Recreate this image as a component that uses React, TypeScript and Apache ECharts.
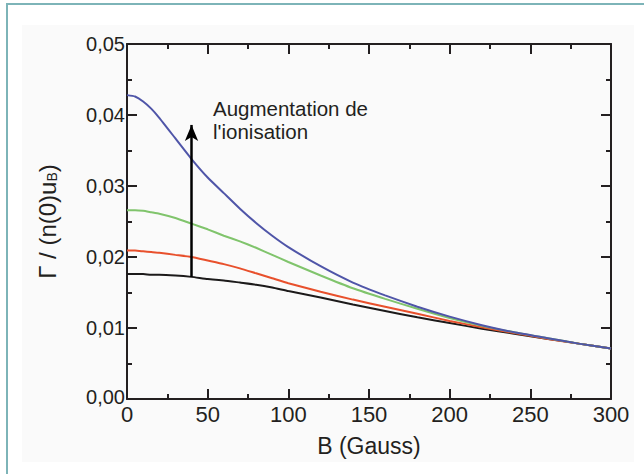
import React, { useEffect, useRef } from "react";
import * as echarts from "echarts";

const bGauss = [0, 5, 10, 15, 20, 30, 40, 50, 60, 70, 80, 90, 100, 120, 140, 160, 180, 200, 220, 240, 260, 280, 300];
const blueVals = [0.0428, 0.0426, 0.0419, 0.0409, 0.0396, 0.0367, 0.0338, 0.0312, 0.029, 0.0268, 0.0248, 0.023, 0.0214, 0.0187, 0.0164, 0.0146, 0.013, 0.0116, 0.0104, 0.0094, 0.0086, 0.0078, 0.0071];
const greenVals = [0.0266, 0.0266, 0.0265, 0.0263, 0.0261, 0.0255, 0.0247, 0.0239, 0.023, 0.0222, 0.0213, 0.0203, 0.0193, 0.0174, 0.0156, 0.0141, 0.0127, 0.0114, 0.0103, 0.0094, 0.0086, 0.0078, 0.0071];
const redVals = [0.0209, 0.0209, 0.0208, 0.0207, 0.0206, 0.0203, 0.02, 0.0195, 0.019, 0.0184, 0.0177, 0.017, 0.0163, 0.0151, 0.014, 0.013, 0.012, 0.011, 0.0101, 0.0093, 0.0085, 0.0078, 0.0071];
const blackVals = [0.0176, 0.0176, 0.0176, 0.0175, 0.0175, 0.0174, 0.0172, 0.0169, 0.0167, 0.0164, 0.0161, 0.0157, 0.0152, 0.0143, 0.0133, 0.0124, 0.0115, 0.0107, 0.0099, 0.0092, 0.0085, 0.0078, 0.0071];

const arrowX = 40;
const arrowFrom = 0.0172;
const arrowTo = 0.0386;
const annotationLines = ["Augmentation de", "l'ionisation"];

const FONT = "'Liberation Sans', Arial, Helvetica, sans-serif";
const AXIS = "#231f20";

const pair = (vals: number[]) => bGauss.map((b, i) => [b, vals[i]]);

export default function App() {
  const ref = useRef<HTMLDivElement>(null);
  useEffect(() => {
    document.body.style.margin = "0";
    const chart = echarts.init(ref.current!, null, { renderer: "svg" });
    const axisCommon = {
      axisLine: { show: true, onZero: false, lineStyle: { color: AXIS, width: 2 } },
      axisTick: { show: true, inside: true, length: 10, lineStyle: { color: AXIS, width: 2 } },
      minorTick: { show: true, splitNumber: 2, length: 5, lineStyle: { color: AXIS, width: 2 } },
      splitLine: { show: false },
    };
    const line = (name: string, vals: number[], color: string, extra: any = {}) => ({
      type: "line",
      name,
      data: pair(vals),
      showSymbol: false,
      symbol: "none",
      smooth: 0.15,
      lineStyle: { color, width: 2 },
      z: 3,
      ...extra,
    });
    chart.setOption({
      animation: false,
      backgroundColor: "#ffffff",
      textStyle: { fontFamily: FONT },
      grid: { left: 127, top: 44, width: 484, height: 355, containLabel: false },
      graphic: [
        { type: "rect", z: -10, shape: { x: 22, y: 25, width: 612, height: 437 }, style: { fill: "#fafafa" }, silent: true },
        { type: "rect", z: -9, shape: { x: 7, y: 4, width: 700, height: 600 }, style: { fill: "none", stroke: "#7db4b8", lineWidth: 2 }, silent: true },
        {
          type: "text",
          left: 213,
          top: 97,
          style: { text: annotationLines.join("\n"), font: `20.5px ${FONT}`, fill: AXIS, lineHeight: 23 },
        },
      ],
      xAxis: [
        {
          type: "value",
          min: 0,
          max: 300,
          interval: 50,
          position: "bottom",
          ...axisCommon,
          axisLabel: { color: AXIS, fontSize: 22, fontFamily: FONT, margin: 7, lineHeight: 16 },
          name: "B (Gauss)",
          nameLocation: "middle",
          nameGap: 35,
          nameTextStyle: { color: AXIS, fontSize: 23, fontFamily: FONT },
        },
        {
          type: "value",
          min: 0,
          max: 300,
          interval: 50,
          position: "top",
          ...axisCommon,
          axisLabel: { show: false },
        },
      ],
      yAxis: [
        {
          type: "value",
          min: 0,
          max: 0.05,
          interval: 0.01,
          position: "left",
          ...axisCommon,
          axisLabel: {
            color: AXIS,
            fontSize: 20,
            fontFamily: FONT,
            margin: 2,
            lineHeight: 12,
            formatter: (v: number) => {
              const s = v.toFixed(2).replace(".", ",");
              return v === 0 ? `{z|${s}}` : s;
            },
            rich: { z: { fontSize: 20, fontFamily: FONT, color: AXIS, lineHeight: 12, padding: [0, 0, 5, 0] } },
          },
          name: "Γ / (n(0)u{sub|B})",
          nameLocation: "middle",
          nameGap: 68,
          nameTextStyle: {
            color: AXIS,
            fontSize: 24,
            fontFamily: FONT,
            rich: { sub: { fontSize: 14, fontFamily: FONT, color: AXIS, verticalAlign: "bottom" } },
          },
        },
        {
          type: "value",
          min: 0,
          max: 0.05,
          interval: 0.01,
          position: "right",
          ...axisCommon,
          axisLabel: { show: false },
        },
      ],
      series: [
        line("n1", blackVals, "#1c1a1a", {
          markLine: {
            silent: true,
            animation: false,
            label: { show: false },
            lineStyle: { color: "#000", width: 2.5, type: "solid" },
            symbol: ["none", "arrow"],
            symbolSize: [10, 16],
            data: [[{ coord: [arrowX, arrowFrom] }, { coord: [arrowX, arrowTo] }]],
          },
        }),
        line("n2", redVals, "#e8502c"),
        line("n3", greenVals, "#80c46c"),
        line("n4", blueVals, "#4f55a8"),
      ],
    });
    return () => chart.dispose();
  }, []);
  return <div ref={ref} style={{ position: "absolute", left: 0, top: 0, width: 644, height: 474 }} />;
}
